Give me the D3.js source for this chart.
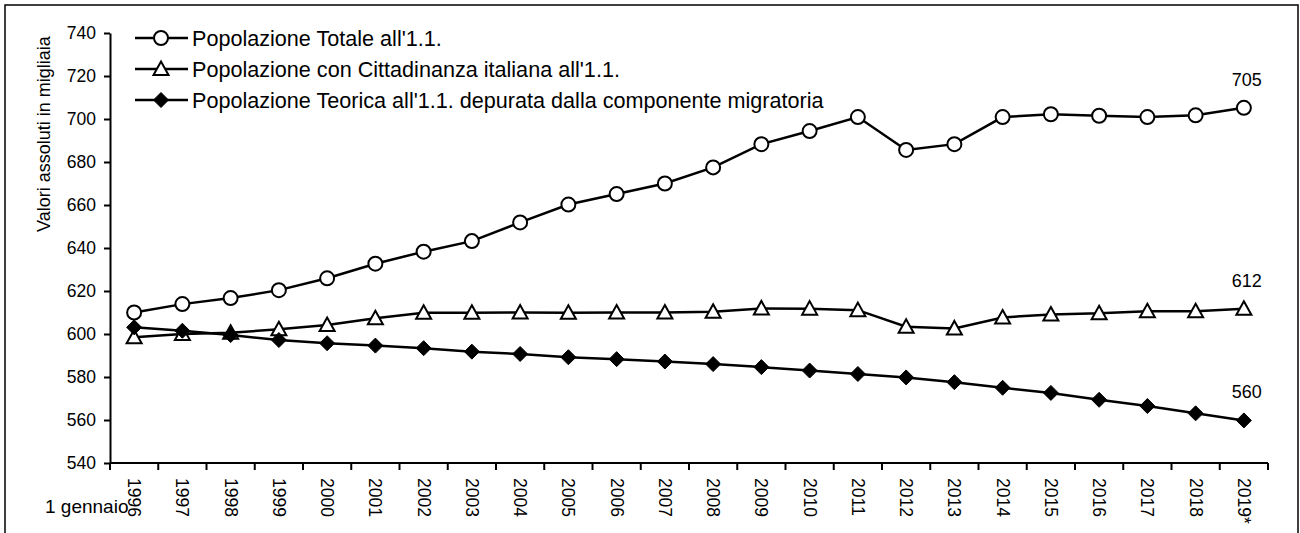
<!DOCTYPE html>
<html>
<head>
<meta charset="utf-8">
<title>Popolazione</title>
<script src="https://d3js.org/d3.v7.min.js"></script>
<style>
  body { margin: 0; background: #fff; }
  svg text { font-family: "Liberation Sans", Arial, sans-serif; fill: #000; }
</style>
</head>
<body>
<svg id="chart" width="1300" height="533"></svg>
<script>
// data (migliaia, 1 gennaio)
var years = ["1996","1997","1998","1999","2000","2001","2002","2003","2004","2005","2006","2007",
             "2008","2009","2010","2011","2012","2013","2014","2015","2016","2017","2018","2019*"];
var totale = [610, 613.9, 616.7, 620.4, 625.9, 632.7, 638.3, 643.2, 651.9, 660.2, 665.1, 670.0,
              677.5, 688.3, 694.4, 700.9, 685.6, 688.3, 700.9, 702.2, 701.5, 700.9, 701.7, 705.2];
var cittadinanza = [598.5, 600.0, 600.6, 602.2, 604.2, 607.3, 609.9, 609.9, 610.0, 609.9, 610.0, 610.0,
                    610.3, 611.9, 611.8, 611.1, 603.4, 602.6, 607.7, 609.1, 609.6, 610.6, 610.6, 611.7];
var teorica = [603.1, 601.5, 599.5, 597.2, 595.7, 594.6, 593.4, 591.8, 590.7, 589.2, 588.3, 587.2,
               586.0, 584.6, 583.0, 581.4, 579.8, 577.6, 575.0, 572.6, 569.4, 566.5, 563.1, 559.8];
var seriesNames = ["Popolazione Totale all'1.1.",
                   "Popolazione con Cittadinanza italiana all'1.1.",
                   "Popolazione Teorica all'1.1. depurata dalla componente migratoria"];
var endLabels = ["705", "612", "560"];
var yTicks = [540, 560, 580, 600, 620, 640, 660, 680, 700, 720, 740];

var svg = d3.select("#chart");

// frame
svg.append("rect")
    .attr("x", 5).attr("y", 5)
    .attr("width", 1293).attr("height", 540)
    .attr("fill", "none").attr("stroke", "#000").attr("stroke-width", 1.5);

var x = d3.scaleBand().domain(years).range([110, 1268]).padding(0);
var y = d3.scaleLinear().domain([540, 740]).range([463, 33]);

// y axis
var yAxis = svg.append("g")
    .attr("transform", "translate(110,0)")
    .call(d3.axisLeft(y).tickValues(yTicks).tickSize(6).tickSizeOuter(0).tickPadding(8));
yAxis.select(".domain").attr("stroke-width", 2);
yAxis.selectAll(".tick line").attr("stroke-width", 2);
yAxis.selectAll(".tick text").style("font-size", "17.5px");

svg.append("text")
    .attr("transform", "translate(50,134) rotate(-90)")
    .attr("text-anchor", "middle")
    .style("font-size", "18px")
    .text("Valori assoluti in migliaia");

// x axis
var xg = svg.append("g").attr("transform", "translate(0,463)");
xg.append("line")
    .attr("x1", 110).attr("x2", 1268)
    .attr("stroke", "#000").attr("stroke-width", 2);
xg.selectAll("line.tk")
    .data(years.concat(["end"]))
    .enter().append("line")
    .attr("class", "tk")
    .attr("x1", function (d) { return d === "end" ? x.range()[1] : x(d); })
    .attr("x2", function (d) { return d === "end" ? x.range()[1] : x(d); })
    .attr("y1", 0).attr("y2", 7)
    .attr("stroke", "#000").attr("stroke-width", 2);
xg.selectAll("text.lbl")
    .data(years)
    .enter().append("text")
    .attr("class", "lbl")
    .attr("transform", function (d) {
        return "translate(" + (x(d) + x.bandwidth() / 2) + ",15) rotate(90)";
    })
    .attr("dy", "0.35em")
    .style("font-size", "17.5px")
    .text(function (d) { return d; });

svg.append("text")
    .attr("x", 45).attr("y", 513)
    .style("font-size", "19px")
    .text("1 gennaio");

// series
var series = [totale, cittadinanza, teorica];
var line = d3.line()
    .x(function (d, i) { return x(years[i]) + x.bandwidth() / 2; })
    .y(function (d) { return y(d); });

function drawMarker(g, type) {
    if (type === 0) {
        g.append("circle").attr("r", 7)
            .attr("fill", "#fff").attr("stroke", "#000").attr("stroke-width", 2);
    } else if (type === 1) {
        g.append("path").attr("d", "M0,-7.5L7.5,6L-7.5,6Z")
            .attr("fill", "#fff").attr("stroke", "#000").attr("stroke-width", 2);
    } else {
        g.append("path").attr("d", "M0,-7.5L7.5,0L0,7.5L-7.5,0Z")
            .attr("fill", "#000").attr("stroke", "#000").attr("stroke-width", 1);
    }
}

series.forEach(function (vals, s) {
    svg.append("path")
        .datum(vals)
        .attr("fill", "none")
        .attr("stroke", "#000")
        .attr("stroke-width", 2.5)
        .attr("d", line);
});
series.forEach(function (vals, s) {
    svg.selectAll("g.m" + s)
        .data(vals)
        .enter().append("g")
        .attr("class", "m" + s)
        .attr("transform", function (d, i) {
            return "translate(" + (x(years[i]) + x.bandwidth() / 2) + "," + y(d) + ")";
        })
        .each(function () { drawMarker(d3.select(this), s); });

    var last = vals.length - 1;
    svg.append("text")
        .attr("x", x(years[last]) + x.bandwidth() / 2 + 3)
        .attr("y", y(vals[last]) - 22)
        .attr("text-anchor", "middle")
        .style("font-size", "18px")
        .text(endLabels[s]);
});

// legend
var legend = svg.append("g");
seriesNames.forEach(function (name, s) {
    var ly = 38 + s * 31;
    legend.append("line")
        .attr("x1", 135).attr("x2", 188)
        .attr("y1", ly).attr("y2", ly)
        .attr("stroke", "#000").attr("stroke-width", 2.5);
    var g = legend.append("g").attr("transform", "translate(161," + ly + ")");
    drawMarker(g, s);
    legend.append("text")
        .attr("x", 192).attr("y", ly)
        .attr("dy", "0.35em")
        .style("font-size", "21.6px")
        .text(name);
});
</script>
</body>
</html>
